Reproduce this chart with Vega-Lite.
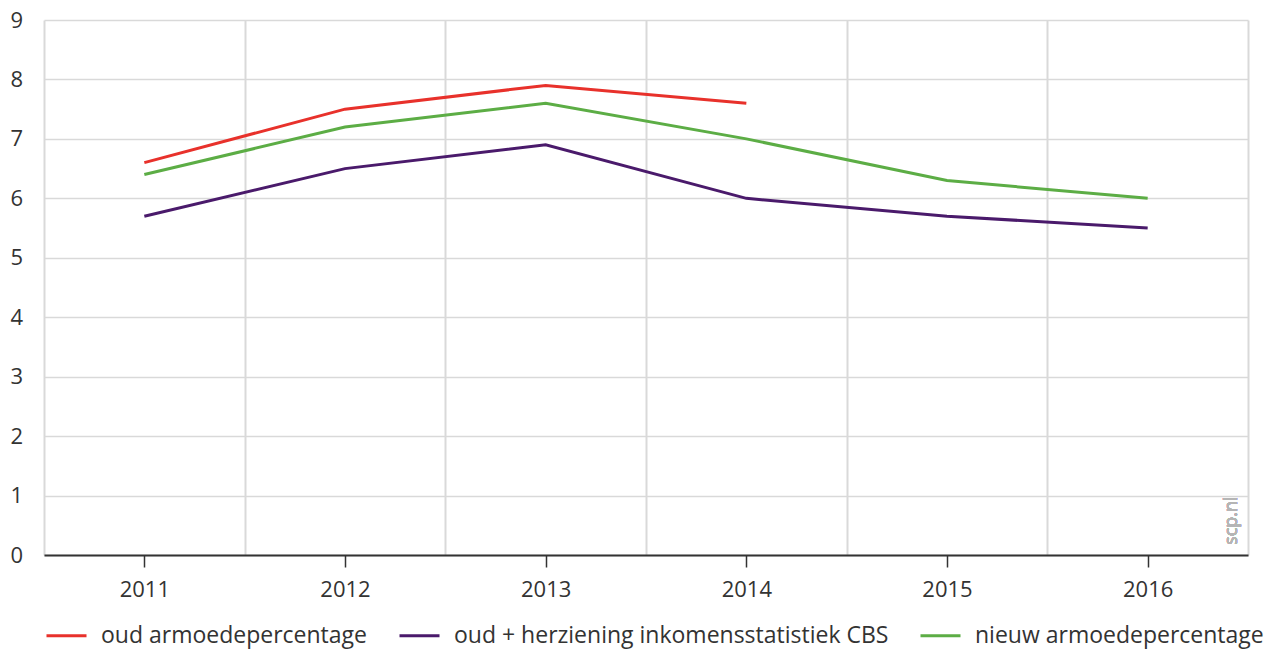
{
  "$schema": "https://vega.github.io/schema/vega-lite/v6.json",
  "width": 1204,
  "height": 535,
  "autosize": {"type": "none"},
  "padding": {"left": 44, "top": 20, "right": 19, "bottom": 96},
  "config": {
    "font": "Open Sans",
    "view": {"stroke": null},
    "axis": {"labelFont": "Open Sans", "labelColor": "#333333", "gridColor": "#d9d9d9", "gridWidth": 1.5}
  },
  "data": {
    "values": [
      {"jaar": 2011, "waarde": 6.6, "reeks": "oud armoedepercentage"},
      {"jaar": 2012, "waarde": 7.5, "reeks": "oud armoedepercentage"},
      {"jaar": 2013, "waarde": 7.9, "reeks": "oud armoedepercentage"},
      {"jaar": 2014, "waarde": 7.6, "reeks": "oud armoedepercentage"},
      {"jaar": 2011, "waarde": 5.7, "reeks": "oud + herziening inkomensstatistiek CBS"},
      {"jaar": 2012, "waarde": 6.5, "reeks": "oud + herziening inkomensstatistiek CBS"},
      {"jaar": 2013, "waarde": 6.9, "reeks": "oud + herziening inkomensstatistiek CBS"},
      {"jaar": 2014, "waarde": 6.0, "reeks": "oud + herziening inkomensstatistiek CBS"},
      {"jaar": 2015, "waarde": 5.7, "reeks": "oud + herziening inkomensstatistiek CBS"},
      {"jaar": 2016, "waarde": 5.5, "reeks": "oud + herziening inkomensstatistiek CBS"},
      {"jaar": 2011, "waarde": 6.4, "reeks": "nieuw armoedepercentage"},
      {"jaar": 2012, "waarde": 7.2, "reeks": "nieuw armoedepercentage"},
      {"jaar": 2013, "waarde": 7.6, "reeks": "nieuw armoedepercentage"},
      {"jaar": 2014, "waarde": 7.0, "reeks": "nieuw armoedepercentage"},
      {"jaar": 2015, "waarde": 6.3, "reeks": "nieuw armoedepercentage"},
      {"jaar": 2016, "waarde": 6.0, "reeks": "nieuw armoedepercentage"}
    ]
  },
  "layer": [
    {
      "mark": {"type": "line", "strokeWidth": 3},
      "encoding": {
        "x": {
          "field": "jaar",
          "type": "quantitative",
          "scale": {"domain": [2010.5, 2016.5], "nice": false, "zero": false},
          "axis": {
            "title": null,
            "values": [2011, 2012, 2013, 2014, 2015, 2016],
            "format": "d",
            "grid": false,
            "domainColor": "#333333",
            "domainWidth": 2,
            "tickColor": "#333333",
            "tickWidth": 1.5,
            "tickSize": 12,
            "labelFontSize": 22,
            "labelPadding": 12,
            "zindex": 1
          }
        },
        "y": {
          "field": "waarde",
          "type": "quantitative",
          "scale": {"domain": [0, 9], "nice": false},
          "axis": {
            "title": null,
            "values": [0, 1, 2, 3, 4, 5, 6, 7, 8, 9],
            "format": "d",
            "grid": true,
            "domain": false,
            "ticks": false,
            "labelAlign": "left",
            "labelPadding": 34,
            "labelFontSize": 22
          }
        },
        "color": {
          "field": "reeks",
          "type": "nominal",
          "scale": {
            "domain": ["oud armoedepercentage", "oud + herziening inkomensstatistiek CBS", "nieuw armoedepercentage"],
            "range": ["#e8312b", "#4a1a6b", "#5cad45"]
          },
          "legend": {
            "title": null,
            "orient": "none",
            "legendX": 1,
            "legendY": 594,
            "direction": "horizontal",
            "symbolType": "stroke",
            "symbolSize": 1600,
            "symbolStrokeWidth": 3,
            "labelFontSize": 23,
            "labelColor": "#333333",
            "labelOffset": 13,
            "columnPadding": 25,
            "labelLimit": 600
          }
        }
      }
    },
    {
      "mark": {"type": "text", "angle": 270, "align": "left", "baseline": "middle", "fontSize": 18, "color": "#b5b5b5"},
      "encoding": {
        "x": {
          "datum": 2016.42,
          "type": "quantitative",
          "axis": {
            "orient": "top",
            "title": null,
            "values": [2010.5, 2011.5, 2012.5, 2013.5, 2014.5, 2015.5, 2016.5],
            "grid": true,
            "gridWidth": 2,
            "labels": false,
            "ticks": false,
            "domain": false
          }
        },
        "y": {"datum": 0.17, "type": "quantitative"},
        "text": {"value": "scp.nl"}
      }
    }
  ],
  "resolve": {"axis": {"x": "independent"}}
}
